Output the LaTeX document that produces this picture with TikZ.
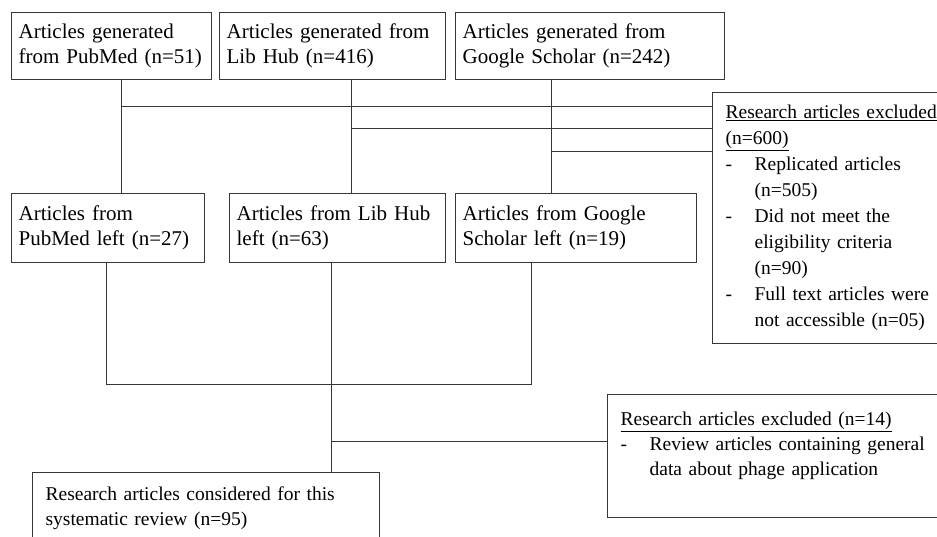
\documentclass[tikz,border=0pt]{standalone}
\usepackage{fontspec}
\setmainfont{Liberation Serif}
\usetikzlibrary{calc}
\definecolor{FlowLine}{RGB}{55,55,55}
\newcommand{\dashitem}{\makebox[29pt][l]{-}}
\newcommand{\hangitem}{\hspace*{29pt}}

\begin{document}
\begin{tikzpicture}[
    x=1pt, y=-1pt,
    every node/.style={font=\fontsize{21}{25}\selectfont, align=left},
    srcbox/.style={rectangle, draw=FlowLine, line width=1.3pt, anchor=north west, inner xsep=7pt, inner ysep=0pt},
    exclbox/.style={srcbox, inner xsep=13pt, font=\fontsize{19.5}{25}\selectfont},
    link/.style={draw=FlowLine, line width=1.3pt}
  ]
    \useasboundingbox (0,0) rectangle (937,537);
    \clip (0,0) rectangle (937,537);

    % Databases
    \node[srcbox, text width=186pt, minimum height=67] (pubmed) at (11,12) {Articles generated\\from PubMed (n=51)};
    \node[srcbox, text width=212pt, minimum height=67] (libhub) at (219,12) {Articles generated from\\Lib Hub (n=416)};
    \node[srcbox, text width=255pt, minimum height=67] (scholar) at (455,12) {Articles generated from\\Google Scholar (n=242)};

    % Left after screening
    \node[srcbox, text width=179pt, minimum height=69] (publeft) at (11,193) {Articles from\\PubMed left (n=27)};
    \node[srcbox, text width=202pt, minimum height=69] (libleft) at (229,193) {Articles from Lib Hub\\left (n=63)};
    \node[srcbox, text width=227pt, minimum height=69] (schleft) at (455,193) {Articles from Google\\Scholar left (n=19)};

    % Exclusions
    \node[exclbox, text width=214pt, minimum height=251, font=\fontsize{19.5}{26}\selectfont] (excl) at (712,92)
      {\underline{Research articles excluded}\\\underline{(n=600)}\\
       \dashitem Replicated articles\\\hangitem (n=505)\\
       \dashitem Did not meet the\\\hangitem eligibility criteria\\\hangitem (n=90)\\
       \dashitem Full text articles were\\\hangitem not accessible (n=05)};
    \node[exclbox, text width=314pt, minimum height=123] (excl2) at (607,394)
      {\underline{Research articles excluded (n=14)}\\
       \dashitem Review articles containing general\\\hangitem data about phage application\\~};

    % Result
    \node[exclbox, text width=321pt, minimum height=72] (final) at (32,472) {Research articles considered for this\\systematic review (n=95)};

    % Connections
    \coordinate (a1) at ([xshift=10pt]pubmed.south);
    \coordinate (a2) at ([xshift=19pt]libhub.south);
    \coordinate (a3) at ([xshift=-38.5pt]scholar.south);
    \draw[link] (a1) -- (a1 |- publeft.north);
    \draw[link] (a2) -- (a2 |- libleft.north);
    \draw[link] (a3) -- (a3 |- schleft.north);
    \coordinate (h1) at ($(a1)+(0,26)$);
    \coordinate (h2) at ($(a2)+(0,48)$);
    \coordinate (h3) at ($(a3)+(0,71)$);
    \draw[link] (h1) -- (h1 -| excl.west);
    \draw[link] (h2) -- (h2 -| excl.west);
    \draw[link] (h3) -- (h3 -| excl.west);

    \coordinate (b2) at ([xshift=-6pt]libleft.south);
    \coordinate (b3) at ([xshift=-44.5pt]schleft.south);
    \coordinate (m) at ($(b2)+(0,121)$);
    \draw[link] ([xshift=-1.5pt]publeft.south) |- (m) -| (b3);
    \draw[link] (b2) -- (b2 |- final.north);
    \coordinate (e2) at ([yshift=14.5pt]excl2.west);
    \draw[link] (e2 -| b2) -- (e2);
  \end{tikzpicture}
\end{document}
